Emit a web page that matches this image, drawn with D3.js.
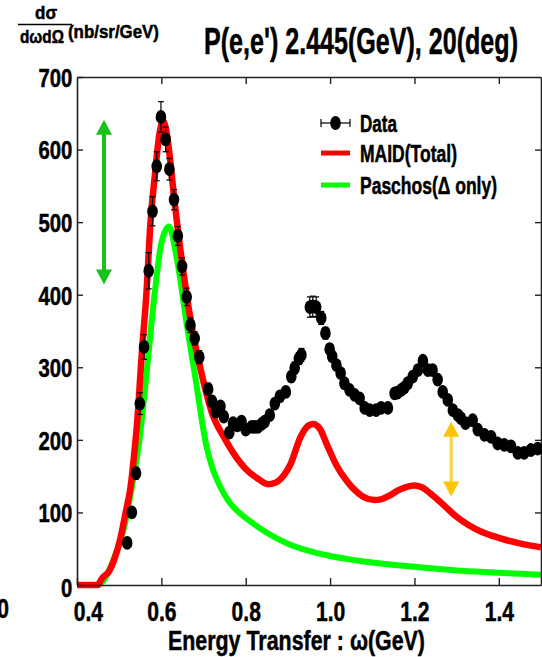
<!DOCTYPE html>
<html>
<head>
<meta charset="utf-8">
<script src="https://cdn.jsdelivr.net/npm/d3@7"></script>
<style>
  html, body { margin: 0; padding: 0; background: #fff; }
  svg { display: block; font-family: "Liberation Sans", Arial, Helvetica, sans-serif; font-weight: bold; }
  svg text { stroke: #000; stroke-width: 0.5px; fill: #000; }
</style>
</head>
<body>
<svg id="chart" width="542" height="657"></svg>
<script>
// Measured inclusive cross section, P(e,e') at 2.445 GeV, 20 deg
const omega = [0.519, 0.530, 0.540, 0.549, 0.559, 0.570, 0.579, 0.589, 0.599, 0.610,
  0.619, 0.630, 0.639, 0.649, 0.660, 0.669, 0.679, 0.690, 0.711, 0.720,
  0.729, 0.740, 0.748, 0.761, 0.770, 0.780, 0.790, 0.800, 0.814, 0.821,
  0.829, 0.838, 0.845, 0.857, 0.869, 0.881, 0.895, 0.908, 0.916, 0.926,
  0.932, 0.952, 0.959, 0.967, 0.979, 0.989, 0.999, 1.005, 1.015, 1.025,
  1.034, 1.046, 1.058, 1.070, 1.082, 1.094, 1.109, 1.121, 1.137, 1.153,
  1.160, 1.169, 1.176, 1.184, 1.196, 1.208, 1.220, 1.232, 1.243, 1.255,
  1.267, 1.279, 1.291, 1.303, 1.310, 1.321, 1.338, 1.350, 1.366, 1.382,
  1.397, 1.413, 1.429, 1.445, 1.460, 1.476, 1.492];
const xsec = [58, 100, 154, 250, 328, 433, 515, 577, 645, 614,
  573, 531, 481, 439, 397, 358, 340, 314, 270, 253,
  239, 246, 232, 210, 223, 220, 225, 214, 218, 218,
  218, 222, 225, 234, 250, 260, 266, 287, 299, 312,
  317, 383, 384, 383, 368, 347, 325, 315, 303, 292,
  278, 269, 262, 257, 244, 241, 241, 244, 244, 264,
  265, 269, 272, 278, 287, 296, 309, 296, 296, 283,
  266, 255, 241, 234, 230, 223, 227, 214, 207, 204,
  195, 193, 191, 182, 182, 186, 188];
const xsecErr = [4, 6, 8, 15, 17, 25, 20, 20, 21, 17,
  15, 14, 13, 12, 12, 10, 9, 9, 8, 7,
  7, 7, 7, 6, 6, 6, 6, 6, 6, 6,
  6, 6, 6, 6, 6, 6, 7, 7, 8, 8,
  9, 14, 14, 14, 9, 8, 7, 7, 6, 6,
  6, 6, 6, 6, 6, 6, 6, 6, 6, 6,
  6, 6, 6, 6, 6, 6, 7, 6, 6, 6,
  6, 6, 5, 5, 5, 5, 5, 5, 5, 5,
  5, 5, 5, 5, 5, 5, 5];

// MAID (total) model curve
const maidOmega = [0.40, 0.45, 0.455, 0.462, 0.475, 0.49, 0.502, 0.515, 0.527, 0.535,
  0.543, 0.553, 0.565, 0.574, 0.585, 0.595, 0.604, 0.612, 0.62, 0.63,
  0.64, 0.65, 0.66, 0.672, 0.695, 0.72, 0.75, 0.78, 0.80, 0.83,
  0.852, 0.87, 0.89, 0.905, 0.93, 0.945, 0.96, 0.975, 0.995, 1.015,
  1.04, 1.06, 1.08, 1.105, 1.12, 1.14, 1.16, 1.18, 1.20, 1.22,
  1.24, 1.26, 1.275, 1.30, 1.33, 1.36, 1.40, 1.43, 1.46, 1.50];
const maidXsec = [0, 0, 5, 11, 18, 38, 62, 99, 135, 177,
  227, 314, 406, 498, 567, 620, 639, 625, 590, 535,
  485, 440, 400, 356, 292, 237, 202, 174, 160, 146,
  139, 141, 151, 165, 204, 218, 222, 216, 190, 165,
  143, 130, 121, 117, 118, 123, 130, 135, 137, 134,
  125, 115, 107, 94, 82, 73, 65, 60, 56, 52];

// Paschos (Delta only) model curve
const paschosOmega = [0.40, 0.443, 0.458, 0.486, 0.514, 0.533, 0.549, 0.561, 0.585, 0.60,
  0.618, 0.636, 0.66, 0.68, 0.707, 0.72, 0.74, 0.76, 0.78, 0.81,
  0.85, 0.90, 0.95, 1.00, 1.05, 1.10, 1.20, 1.30, 1.40, 1.50];
const paschosXsec = [0, 0, 3, 34, 85, 145, 204, 269, 406, 471,
  494, 452, 360, 288, 191, 163, 135, 115, 102, 88,
  72, 57, 47, 40, 35, 31, 25, 20, 17, 14];

// Double-headed guide arrows: [omega, upper value, lower value]
const greenArrow = [0.464, 641, 414];
const goldArrow = [1.287, 225, 122];

const xTicks = [0.4, 0.6, 0.8, 1.0, 1.2, 1.4];
const yTicks = [0, 100, 200, 300, 400, 500, 600, 700];

const titleText = "P(e,e') 2.445(GeV), 20(deg)";
const xTitleText = "Energy Transfer : \u03c9(GeV)";
const legendLabels = ["Data", "MAID(Total)", "Paschos(\u0394 only)"];

const RED = "#ff0000", LIME = "#00ff00", ARROW_GREEN = "#19c219", GOLD = "#ffc400";

const svg = d3.select("#chart");
const plotL = 77, plotR = 541, plotT = 77, plotB = 585;

const x = d3.scaleLinear().domain([0.4, 1.5]).range([plotL, plotR]);
const y = d3.scaleLinear().domain([0, 700]).range([plotB, plotT]);

// clip for model curves
svg.append("defs").append("clipPath").attr("id", "plotclip")
  .append("rect").attr("x", plotL).attr("y", plotT - 10).attr("width", plotR - plotL).attr("height", plotB - plotT + 20);

// model curves
const curveLine = d3.line().x(d => x(d[0])).y(d => y(d[1])).curve(d3.curveMonotoneX);
const curves = svg.append("g").attr("clip-path", "url(#plotclip)");
curves.append("path")
  .datum(paschosOmega.map((w, i) => [w, paschosXsec[i]]))
  .attr("d", curveLine)
  .attr("fill", "none").attr("stroke", LIME).attr("stroke-width", 6).attr("stroke-linejoin", "round");
curves.append("path")
  .datum(maidOmega.map((w, i) => [w, maidXsec[i]]))
  .attr("d", curveLine)
  .attr("fill", "none").attr("stroke", RED).attr("stroke-width", 6.5).attr("stroke-linejoin", "round");

// axes frame
const frame = svg.append("g").attr("class", "axes");
const styleAxis = g => {
  g.selectAll(".domain").attr("stroke", "#222").attr("stroke-width", 1.6);
  g.selectAll(".tick line").attr("stroke", "#222").attr("stroke-width", 1.4);
};
const xb = frame.append("g").attr("transform", `translate(0,${plotB})`)
  .call(d3.axisBottom(x).tickValues(xTicks).tickSizeInner(-7).tickSizeOuter(0).tickFormat(d3.format(".1f")))
  .call(styleAxis);
xb.selectAll(".tick text")
  .attr("y", 36).attr("dy", 0)
  .attr("font-size", 27).attr("font-weight", "bold")
  .attr("font-family", "Liberation Sans, Arial, sans-serif")
  .attr("transform", "scale(0.78,1)")
  .attr("dx", d => d === 0.4 ? 14 : 0);
frame.append("g").attr("transform", `translate(0,${plotT})`)
  .call(d3.axisTop(x).tickValues(xTicks.slice(1)).tickSizeInner(-7).tickSizeOuter(0).tickFormat(""))
  .call(styleAxis);
const yl = frame.append("g").attr("transform", `translate(${plotL},0)`)
  .call(d3.axisLeft(y).tickValues(yTicks).tickSizeInner(-6).tickSizeOuter(0).tickPadding(6))
  .call(styleAxis);
yl.selectAll(".tick text")
  .attr("font-size", 26).attr("font-weight", "bold")
  .attr("font-family", "Liberation Sans, Arial, sans-serif")
  .attr("transform", "scale(0.78,1)")
  .attr("dy", d => d === 0 ? "0.45em" : "0.36em");
frame.append("g").attr("transform", `translate(${plotR},0)`)
  .call(d3.axisRight(y).tickValues(yTicks.slice(1, 7)).tickSizeInner(-6).tickSizeOuter(0).tickFormat(""))
  .call(styleAxis);

// stray tick label partly beyond the left edge
svg.append("text").attr("x", 9).attr("y", 618).attr("text-anchor", "end")
  .attr("font-size", 27).attr("transform", "translate(9,0) scale(0.78,1) translate(-9,0)")
  .text("0");

// data points with error bars
const pts = omega.map((w, i) => ({ w, v: xsec[i], e: xsecErr[i] }));
const dataG = svg.append("g");
const eb = dataG.selectAll("g.eb").data(pts).join("g").attr("class", "eb");
eb.append("line")
  .attr("x1", d => x(d.w)).attr("x2", d => x(d.w))
  .attr("y1", d => y(d.v + d.e)).attr("y2", d => y(d.v - d.e))
  .attr("stroke", "#000").attr("stroke-width", 1.2);
eb.append("line")
  .attr("x1", d => x(d.w) - 3).attr("x2", d => x(d.w) + 3)
  .attr("y1", d => y(d.v + d.e)).attr("y2", d => y(d.v + d.e))
  .attr("stroke", "#000").attr("stroke-width", 1.2);
eb.append("line")
  .attr("x1", d => x(d.w) - 3).attr("x2", d => x(d.w) + 3)
  .attr("y1", d => y(d.v - d.e)).attr("y2", d => y(d.v - d.e))
  .attr("stroke", "#000").attr("stroke-width", 1.2);
dataG.selectAll("ellipse").data(pts).join("ellipse")
  .attr("cx", d => x(d.w)).attr("cy", d => y(d.v))
  .attr("rx", 5.3).attr("ry", 6.9).attr("fill", "#000");

// double-headed arrows
function doubleArrow(spec, shaftColor, headColor, shaftWidth) {
  const ax = x(spec[0]), y1 = y(spec[1]), y2 = y(spec[2]);
  const hh = 15, hw = 8;
  const g = svg.append("g");
  g.append("line").attr("x1", ax).attr("x2", ax).attr("y1", y1 + hh - 1).attr("y2", y2 - hh + 1)
    .attr("stroke", shaftColor).attr("stroke-width", shaftWidth);
  g.append("path").attr("d", `M${ax},${y1} L${ax - hw},${y1 + hh} L${ax + hw},${y1 + hh} Z`).attr("fill", headColor);
  g.append("path").attr("d", `M${ax},${y2} L${ax - hw},${y2 - hh} L${ax + hw},${y2 - hh} Z`).attr("fill", headColor);
}
doubleArrow(greenArrow, ARROW_GREEN, ARROW_GREEN, 4);
doubleArrow(goldArrow, "#ffd23a", GOLD, 3);

// legend
const lg = svg.append("g");
const rowY = [123, 153, 185];
lg.append("line").attr("x1", 321).attr("x2", 350).attr("y1", rowY[0]).attr("y2", rowY[0]).attr("stroke", "#000").attr("stroke-width", 1.2);
[321, 350].forEach(px => lg.append("line").attr("x1", px).attr("x2", px).attr("y1", rowY[0] - 4).attr("y2", rowY[0] + 4).attr("stroke", "#000").attr("stroke-width", 1.2));
lg.append("ellipse").attr("cx", 335.5).attr("cy", rowY[0]).attr("rx", 5.3).attr("ry", 6.9).attr("fill", "#000");
lg.append("line").attr("x1", 321).attr("x2", 350).attr("y1", rowY[1]).attr("y2", rowY[1]).attr("stroke", RED).attr("stroke-width", 5);
lg.append("line").attr("x1", 321).attr("x2", 350).attr("y1", rowY[2]).attr("y2", rowY[2]).attr("stroke", LIME).attr("stroke-width", 5);
const legendWidths = [37, 97, 137];
legendLabels.forEach((t, i) => {
  lg.append("text").attr("x", 360).attr("y", rowY[i] + 8.5)
    .attr("font-size", 23)
    .attr("textLength", legendWidths[i]).attr("lengthAdjust", "spacingAndGlyphs")
    .text(t);
});

// title and axis labels
svg.append("text").attr("x", 204).attr("y", 54).attr("font-size", 36)
  .attr("textLength", 314).attr("lengthAdjust", "spacingAndGlyphs").text(titleText);
svg.append("text").attr("x", 168).attr("y", 650).attr("font-size", 27)
  .attr("textLength", 257).attr("lengthAdjust", "spacingAndGlyphs").text(xTitleText);
svg.append("text").attr("x", 46).attr("y", 19).attr("text-anchor", "middle").attr("font-size", 18)
  .attr("textLength", 22).attr("lengthAdjust", "spacingAndGlyphs").text("d\u03c3");
svg.append("line").attr("x1", 18).attr("x2", 72).attr("y1", 24.5).attr("y2", 24.5).attr("stroke", "#000").attr("stroke-width", 1.3);
svg.append("text").attr("x", 20).attr("y", 43).attr("font-size", 18)
  .attr("textLength", 44).attr("lengthAdjust", "spacingAndGlyphs").text("d\u03c9d\u03a9");
svg.append("text").attr("x", 68).attr("y", 38).attr("font-size", 19)
  .attr("textLength", 91).attr("lengthAdjust", "spacingAndGlyphs").text("(nb/sr/GeV)");
</script>
</body>
</html>
